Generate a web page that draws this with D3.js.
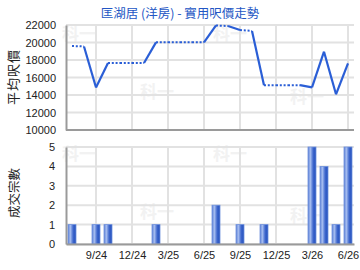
<!DOCTYPE html>
<html>
<head>
<meta charset="utf-8">
<script src="https://cdn.jsdelivr.net/npm/d3@7"></script>
<style>
  body { margin: 0; background: #fff; }
  svg { display: block; font-family: "Liberation Sans", Arial, sans-serif; }
</style>
</head>
<body>
<div id="chart"></div>
<script>
// monthly data, 7/24 .. 6/26
const months = ["7/24","8/24","9/24","10/24","11/24","12/24","1/25","2/25","3/25","4/25","5/25","6/25",
  "7/25","8/25","9/25","10/25","11/25","12/25","1/26","2/26","3/26","4/26","5/26","6/26"]
const prices = [19600, 19550, 14850, 17650, 17650, 17650, 17650, 20020, 20020, 20020, 20020, 20020,
  21950, 21880, 21430, 21320, 15120, 15120, 15120, 15120, 14880, 18950, 14080, 17620]
const counts = [1,0,1,1,0,0,0,1,0,0,0,0,2,0,1,0,1,0,0,0,5,4,1,5]
const tickLabels = ["9/24","12/24","3/25","6/25","9/25","12/25","3/26","6/26"]
const priceTicks = [10000,12000,14000,16000,18000,20000,22000]
const countTicks = [0,1,2,3,4,5]

const w = 360
const h = 270
const left = 66
const right = 354

const svg = d3.select("#chart")
  .append("svg")
  .attr("width", w)
  .attr("height", h)

const defs = svg.append("defs")
const grad = defs.append("linearGradient").attr("id", "barGrad")
  .attr("x1", "0%").attr("x2", "100%").attr("y1", "0%").attr("y2", "0%")
grad.append("stop").attr("offset", "0%").attr("stop-color", "#5d80d6")
grad.append("stop").attr("offset", "30%").attr("stop-color", "#a6bdf0")
grad.append("stop").attr("offset", "65%").attr("stop-color", "#3d66cc")
grad.append("stop").attr("offset", "100%").attr("stop-color", "#2450bd")

const x = d3.scaleLinear().domain([-0.5, months.length - 0.5]).range([left, right])
const tickIdx = tickLabels.map(t => months.indexOf(t))

// watermark
const marks = [[62, 40], [213, 40], [140, 98], [290, 103], [62, 160], [213, 160], [140, 218], [290, 222]]
svg.selectAll("text.wm")
  .data(marks)
  .enter()
  .append("text")
  .attr("class", "wm")
  .attr("x", d => d[0])
  .attr("y", d => d[1])
  .attr("font-size", 17)
  .attr("font-weight", "bold")
  .attr("fill", "#f2f2f2")
  .attr("font-family", "Noto Sans CJK TC")
  .text("科一")

// title
svg.append("text")
  .attr("x", 180)
  .attr("y", 18)
  .attr("text-anchor", "middle")
  .attr("font-size", 12.5)
  .attr("fill", "#2356c4")
  .attr("font-family", "Noto Sans CJK TC")
  .text("匡湖居 (洋房) - 實用呎價走勢")

// ---- top: price line
const yTop = 25, yBot = 130
const y = d3.scaleLinear().domain([10000, 22000]).range([yBot, yTop])

const topG = svg.append("g")
topG.selectAll("line.hg")
  .data(priceTicks)
  .enter()
  .append("line")
  .attr("x1", left).attr("x2", right)
  .attr("y1", d => y(d)).attr("y2", d => y(d))
  .attr("stroke", "#e2e2e2").attr("stroke-width", 2)
topG.selectAll("line.vg")
  .data(tickIdx)
  .enter()
  .append("line")
  .attr("x1", d => x(d)).attr("x2", d => x(d))
  .attr("y1", yTop).attr("y2", yBot)
  .attr("stroke", "#e2e2e2").attr("stroke-width", 2)

const yAxis = d3.axisLeft(y).tickValues(priceTicks).tickSize(0).tickPadding(10).tickFormat(d3.format("d"))
topG.append("g")
  .attr("transform", `translate(${left},0)`)
  .call(yAxis)
  .call(g => g.select(".domain").attr("stroke", "#9a9a9a").attr("stroke-width", 2))
  .call(g => g.selectAll("text").attr("font-size", 11).attr("fill", "#222")
    .attr("font-family", "Liberation Sans, Arial, sans-serif"))
topG.append("line")
  .attr("x1", left).attr("x2", right)
  .attr("y1", yBot).attr("y2", yBot)
  .attr("stroke", "#9a9a9a").attr("stroke-width", 2)

svg.append("text")
  .attr("transform", "translate(18,77) rotate(-90)")
  .attr("text-anchor", "middle")
  .attr("font-size", 13)
  .attr("letter-spacing", 1)
  .attr("fill", "#222")
  .attr("font-family", "Noto Sans CJK TC")
  .text("平均呎價")

// segments: dotted where the next month has no transactions
const segs = d3.range(prices.length - 1).map(i => ({ i: i, dotted: counts[i + 1] === 0 }))
topG.selectAll("line.seg")
  .data(segs)
  .enter()
  .append("line")
  .attr("x1", d => x(d.i)).attr("y1", d => y(prices[d.i]))
  .attr("x2", d => x(d.i + 1)).attr("y2", d => y(prices[d.i + 1]))
  .attr("stroke", "#2a5ed6")
  .attr("stroke-width", d => d.dotted ? 2 : 2.2)
  .attr("stroke-dasharray", d => d.dotted ? "2,1.8" : null)

// ---- bottom: counts
const bTop = 147, bBot = 244
const yc = d3.scaleLinear().domain([0, 5]).range([bBot, bTop])

const botG = svg.append("g")
botG.selectAll("line.hg")
  .data(countTicks)
  .enter()
  .append("line")
  .attr("x1", left).attr("x2", right)
  .attr("y1", d => yc(d)).attr("y2", d => yc(d))
  .attr("stroke", "#e2e2e2").attr("stroke-width", 2)
botG.selectAll("line.vg")
  .data(tickIdx)
  .enter()
  .append("line")
  .attr("x1", d => x(d)).attr("x2", d => x(d))
  .attr("y1", bTop).attr("y2", bBot)
  .attr("stroke", "#e2e2e2").attr("stroke-width", 2)

const barW = 8
botG.selectAll("rect")
  .data(counts)
  .enter()
  .append("rect")
  .attr("x", (d, i) => x(i) - barW / 2)
  .attr("y", d => yc(d))
  .attr("width", barW)
  .attr("height", d => bBot - yc(d))
  .attr("fill", "url(#barGrad)")
  .attr("stroke", "#6f91dc")
  .attr("stroke-width", 0.8)

botG.append("g")
  .attr("transform", `translate(${left},0)`)
  .call(d3.axisLeft(yc).tickValues(countTicks).tickSize(0).tickPadding(11).tickFormat(d3.format("d")))
  .call(g => g.select(".domain").attr("stroke", "#9a9a9a").attr("stroke-width", 2))
  .call(g => g.selectAll("text").attr("font-size", 11).attr("fill", "#222")
    .attr("font-family", "Liberation Sans, Arial, sans-serif"))

const xAxis = d3.axisBottom(x).tickValues(tickIdx).tickSize(0).tickPadding(7)
  .tickFormat((d, i) => tickLabels[i])
botG.append("g")
  .attr("transform", `translate(0,${bBot})`)
  .call(xAxis)
  .call(g => g.select(".domain").attr("stroke", "#9a9a9a").attr("stroke-width", 2))
  .call(g => g.selectAll("text").attr("font-size", 11).attr("fill", "#222")
    .attr("font-family", "Liberation Sans, Arial, sans-serif"))

svg.append("text")
  .attr("transform", "translate(19,193) rotate(-90)")
  .attr("text-anchor", "middle")
  .attr("font-size", 12.5)
  .attr("fill", "#222")
  .attr("font-family", "Noto Sans CJK TC")
  .text("成交宗數")
</script>
</body>
</html>
